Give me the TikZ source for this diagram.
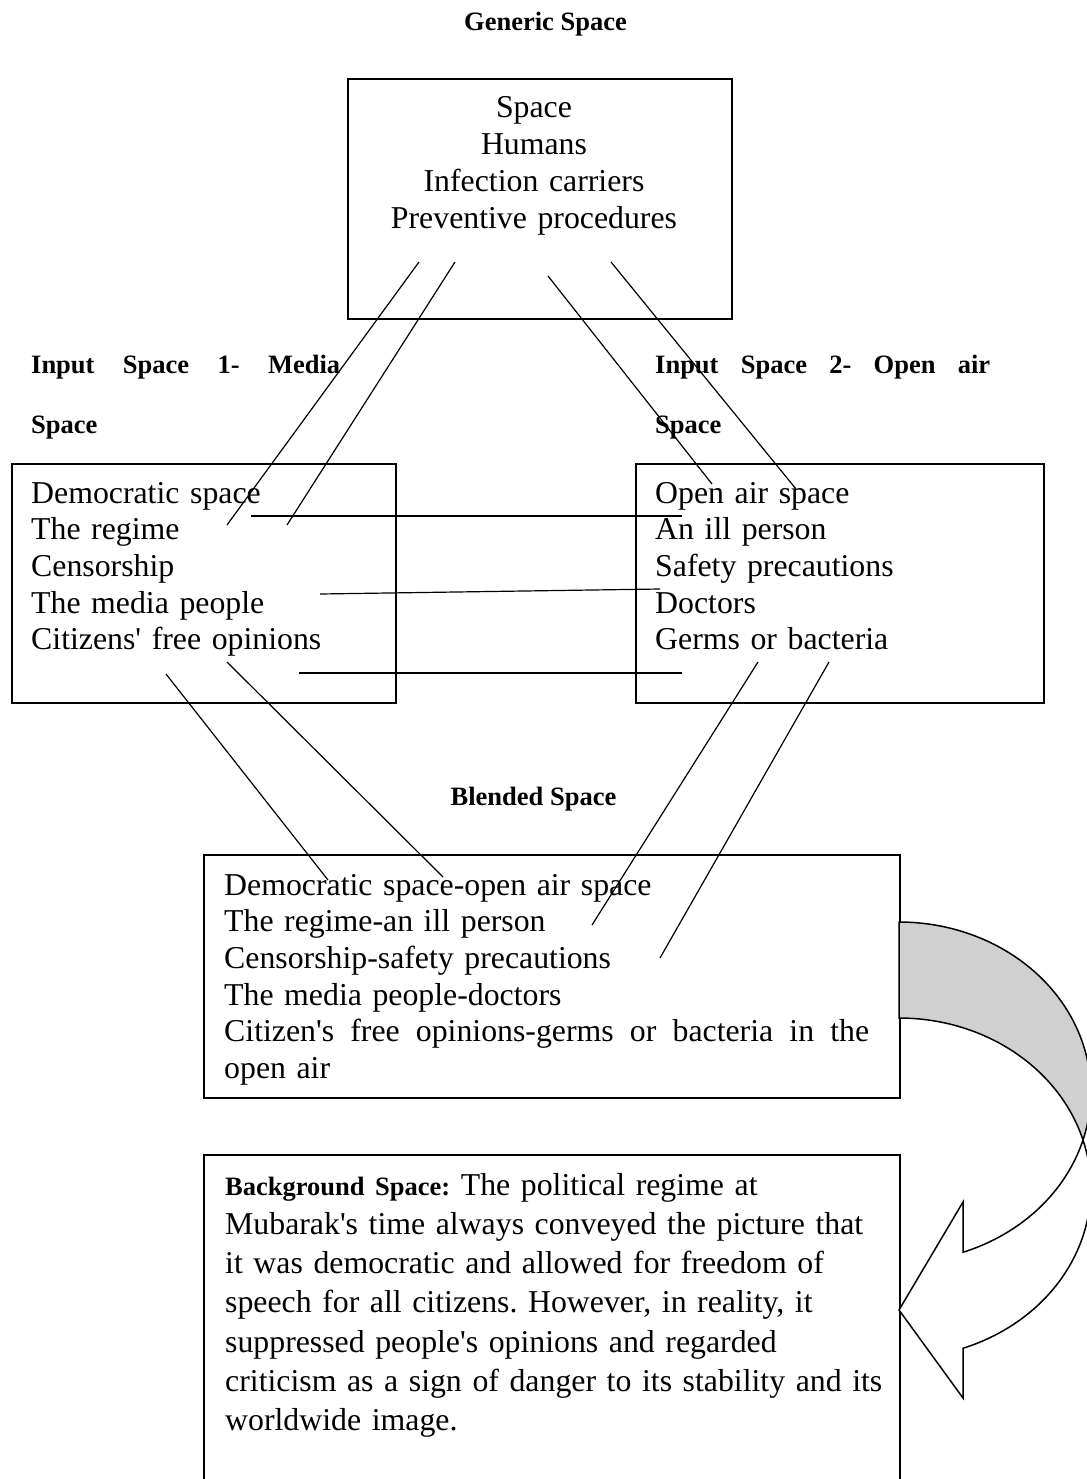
\documentclass[tikz,border=0pt]{standalone}
\usepackage{fontspec}
\setmainfont{Liberation Serif}
\definecolor{bandgray}{RGB}{208,208,208}
\newcommand{\apos}{\textquotesingle}
\newcommand{\jsp}{\hspace{0.25em plus 1fill}}
\begin{document}
\frenchspacing
\begin{tikzpicture}[x=1pt,y=-1pt,
  box/.style={draw, rectangle, line width=1.6pt, inner sep=0pt},
  body/.style={font=\fontsize{31.8}{36.7}\selectfont, inner sep=0pt, align=left},
  hdr/.style={font=\fontsize{26.5}{32}\selectfont\bfseries, inner sep=0pt},
  link/.style={line width=1.2pt},
  curvedge/.style={draw=black, line width=1.5pt, line join=miter}]

\useasboundingbox (0,0) rectangle (1086,1479);
\fill[white] (0,0) rectangle (1086,1479);

% headings
\node[hdr, anchor=base] (hgen) at (545.5,31) {Generic Space};
\node[hdr, anchor=base west] (hin1a) at (31,373)
  {\makebox[309pt][s]{Input\jsp Space\jsp 1-\jsp Media}};
\node[hdr, anchor=base west] (hin1b) at (31,433) {Space};
\node[hdr, anchor=base west] (hin2a) at (655,373)
  {\makebox[335pt][s]{Input\jsp Space\jsp 2-\jsp Open\jsp air}};
\node[hdr, anchor=base west] (hin2b) at (655,433) {Space};
\node[hdr, anchor=base] (hblend) at (533.5,805) {Blended Space};

% frames
\node[box, anchor=north west, minimum width=384pt, minimum height=240pt] (gbox) at (347,78) {};
\node[box, anchor=north west, minimum width=384pt, minimum height=239pt] (lbox) at (11,463) {};
\node[box, anchor=north west, minimum width=408pt, minimum height=239pt] (rbox) at (635,463) {};
\node[box, anchor=north west, minimum width=696pt, minimum height=243pt] (bbox) at (203,854) {};
\node[box, anchor=north west, minimum width=696pt, minimum height=380pt] (kbox) at (203,1154) {};

% contents
\node[body, anchor=base, text width=360pt, align=center] (gtext) at (534,118)
  {Space\\Humans\\Infection carriers\\Preventive procedures};
\node[body, anchor=base west, text width=360pt] (ltext) at (31,503)
  {Democratic space\\The regime\\Censorship\\The media people\\Citizens\apos{} free opinions};
\node[body, anchor=base west, text width=380pt] (rtext) at (655,503)
  {Open air space\\An ill person\\Safety precautions\\Doctors\\Germs or bacteria};
\node[body, anchor=base west, text width=660pt] (btext) at (224,895)
  {Democratic space-open air space\\The regime-an ill person\\Censorship-safety precautions\\The media people-doctors\\%
   \makebox[645pt][s]{Citizen\apos s\jsp free\jsp opinions-germs\jsp or\jsp bacteria\jsp in\jsp the}\\open air};
\node[body, anchor=base west, text width=660pt, font=\fontsize{31.8}{39.3}\selectfont] (ktext) at (225,1195)
  {{\fontsize{26.5}{39.3}\selectfont\bfseries Background Space:} The political regime at\\
   Mubarak\apos s time always conveyed the picture that\\
   it was democratic and allowed for freedom of\\
   speech for all citizens. However, in reality, it\\
   suppressed people\apos s opinions and regarded\\
   criticism as a sign of danger to its stability and its\\
   worldwide image.};

% connector end points
\coordinate (g1) at (419,262);  \coordinate (l1) at (227,525);
\coordinate (g2) at (455,262);  \coordinate (l2) at (287,525);
\coordinate (g3) at (548,276);  \coordinate (r3) at (712,484);
\coordinate (g4) at (611,262);  \coordinate (r4) at (796,489);
\coordinate (m1a) at (251,516); \coordinate (m1b) at (682,516);
\coordinate (m2a) at (320,594); \coordinate (m2b) at (660,589);
\coordinate (m3a) at (299,673); \coordinate (m3b) at (682,673);
\coordinate (p1a) at (166,674); \coordinate (p1b) at (328,880);
\coordinate (p2a) at (227,662); \coordinate (p2b) at (443,877);
\coordinate (q1a) at (758,662); \coordinate (q1b) at (592,925);
\coordinate (q2a) at (829,662); \coordinate (q2b) at (660,958);

% connectors
\draw[link] (g1) -- (l1);
\draw[link] (g2) -- (l2);
\draw[link] (g3) -- (r3);
\draw[link] (g4) -- (r4);
\draw[link] (m1a) -- (m1b);
\draw[link] (m2a) -- (m2b);
\draw[link] (m3a) -- (m3b);
\draw[link] (p1a) -- (p1b);
\draw[link] (p2a) -- (p2b);
\draw[link] (q1a) -- (q1b);
\draw[link] (q2a) -- (q2b);

% curved arrow from the blend down to the background frame
\coordinate (tipk) at (899,1310);
\path[curvedge, fill=white]
  plot[domain=106.4:160.5, samples=50] ({899+191.8*sin(\x)},{1092-170*cos(\x)})
  -- (963,1202) -- (tipk) -- (963,1398) -- (963,1348.3)
  -- plot[domain=160.5:73.6, samples=60] ({899+191.8*sin(\x)},{1188-170*cos(\x)})
  -- cycle;
\path[curvedge, fill=bandgray]
  plot[domain=0:106.4, samples=80] ({899+191.8*sin(\x)},{1092-170*cos(\x)})
  -- plot[domain=73.6:0, samples=60] ({899+191.8*sin(\x)},{1188-170*cos(\x)})
  -- cycle;
\end{tikzpicture}
\end{document}
